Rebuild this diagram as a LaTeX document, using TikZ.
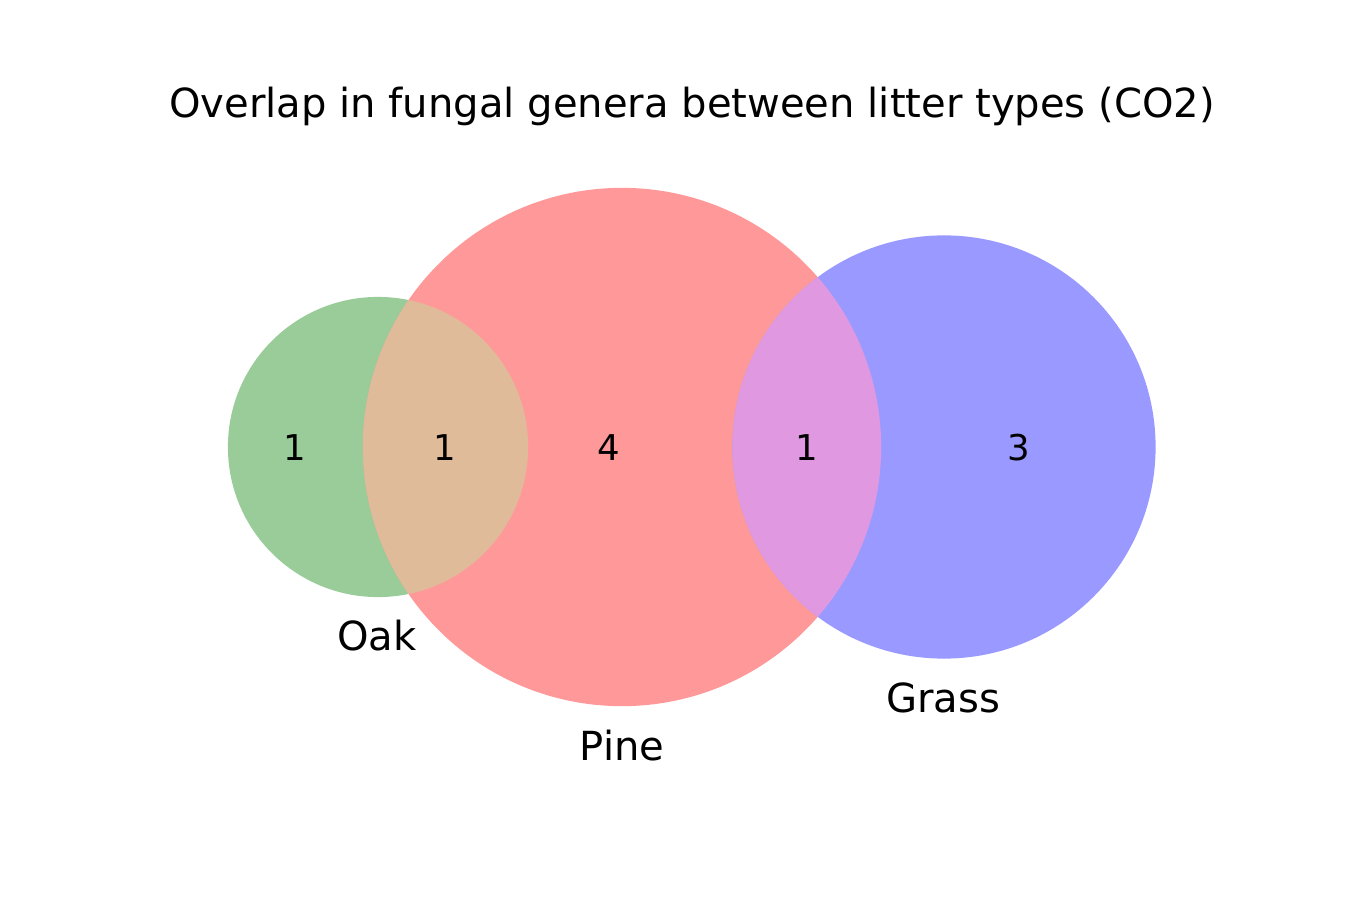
\documentclass[tikz,border=0pt]{standalone}
\usepackage{fontspec}
\setmainfont{DejaVu Sans}
\usetikzlibrary{positioning}

\definecolor{oakc}{HTML}{99CC99}
\definecolor{pinec}{HTML}{FF9999}
\definecolor{grassc}{HTML}{9999FF}
\definecolor{oakpine}{HTML}{E0BB99}
\definecolor{pinegrass}{HTML}{E099E0}

\begin{document}
\begin{tikzpicture}[x=0.01cm,y=-0.01cm,
 every node/.style={inner sep=0pt,anchor=base},
 cnt/.style={font=\fontsize{10.1}{12}\selectfont},
 lab/.style={font=\fontsize{11.4}{13}\selectfont}]
\useasboundingbox (0,0) rectangle (1350,900);
% sets
\fill[oakc] (378,447) circle[radius=1.5cm];
\fill[pinec] (622,447) circle[radius=2.59cm];
\fill[grassc] (944,447) circle[radius=2.115cm];
% overlaps
\begin{scope}
 \clip (378,447) circle[radius=1.5cm];
 \fill[oakpine] (622,447) circle[radius=2.59cm];
\end{scope}
\begin{scope}
 \clip (944,447) circle[radius=2.115cm];
 \fill[pinegrass] (622,447) circle[radius=2.59cm];
\end{scope}
% counts
\node[cnt] (a) at (295,460) {1};
\node[cnt] (ab) at (445,460) {1};
\node[cnt] (b) at (609,460) {4};
\node[cnt] (bc) at (807,460) {1};
\node[cnt] (c) at (1019,460) {3};
% set labels
\node[lab] (oak) at (377,650) {Oak};
\node[lab] (pine) at (622,760) {Pine};
\node[lab] (grass) at (943,712) {Grass};
\node[lab] (title) at (692,117) {Overlap in fungal genera between litter types (CO2)};
\end{tikzpicture}
\end{document}
